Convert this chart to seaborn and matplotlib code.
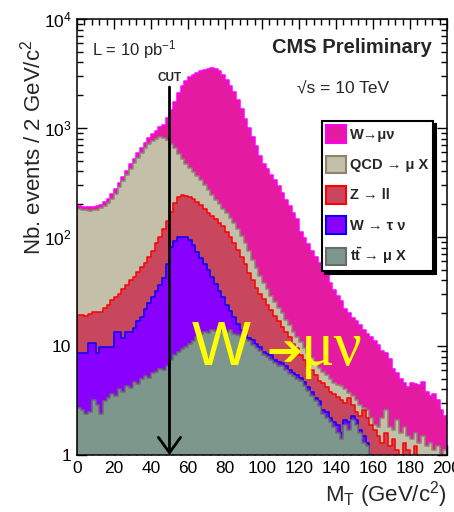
import numpy as np
import pandas as pd
import matplotlib
matplotlib.use("Agg")
import matplotlib.pyplot as plt
from matplotlib.patches import Patch
from matplotlib.ticker import MultipleLocator, LogLocator, FuncFormatter, NullFormatter
import seaborn as sns

# Transverse-mass binning: 2 GeV/c^2 bins from 0 to 200
mt_edges = list(range(0, 202, 2))

# Expected events per bin for L = 10 pb^-1, one list per process
ttbar = [
    2.7, 2.6, 2.4, 2.5, 3.2, 2.9, 2.4, 3.1, 3.3, 3.6,
    3.5, 4.0, 3.8, 4.3, 4.1, 4.7, 4.5, 5.0, 5.3, 5.1,
    5.6, 5.8, 6.2, 6.0, 6.6, 7.4, 8.2, 8.8, 9.4, 9.8,
    10.5, 11.2, 12.0, 12.8, 13.5, 13.2, 14.0, 13.6, 14.2, 13.8,
    13.5, 13.9, 13.0, 12.6, 12.0, 11.6, 11.0, 10.2, 9.6, 9.0,
    8.2, 7.9, 7.4, 7.0, 6.5, 6.6, 6.0, 5.5, 5.3, 5.0,
    4.8, 4.3, 3.9, 3.5, 3.1, 2.8, 2.4, 2.2, 2.0, 1.8,
    1.6, 1.4, 1.9, 1.7, 2.1, 1.9, 1.6, 1.3, 1.2, 0.9,
    0.8, 0.6, 0.7, 0.5, 0.6, 0.4, 0.5, 0.3, 0.4, 0.3,
    0.3, 0.2, 0.3, 0.2, 0.2, 0.2, 0.1, 0.2, 0.1, 0.1,
]
w_taunu = [
    5.9, 6.0, 6.2, 8.1, 7.4, 5.7, 7.4, 6.7, 6.5, 6.2,
    9.9, 9.4, 8.0, 9.1, 9.3, 9.8, 12.5, 13.5, 16.7, 19.9,
    22.4, 26.2, 29.8, 36.0, 50.4, 73.6, 83.8, 91.2, 91.6, 89.2,
    83.5, 72.8, 61.0, 51.2, 42.5, 36.8, 29.0, 23.4, 17.8, 14.2,
    10.5, 7.1, 5.5, 3.4, 2.0, 0.9, 0.8, 1.1, 0.9, 0.8,
    0.7, 0.6, 0.8, 0.5, 0.6, 0.4, 0.5, 0.5, 0.3, 0.4,
    0.3, 0.4, 0.3, 0.3, 0.2, 0.3, 0.2, 0.3, 0.2, 0.2,
    0.3, 0.2, 0.2, 0.3, 0.2, 0.2, 0.1, 0.2, 0.1, 0.1,
    0.1, 0.1, 0.05, 0.1, 0.05, 0.05, 0.1, 0.05, 0.05, 0.05,
    0.05, 0.02, 0.05, 0.02, 0.02, 0.02, 0.02, 0.01, 0.02, 0.01,
]
z_ll = [
    10.6, 10.6, 10.4, 8.9, 9.9, 11.9, 10.7, 12.7, 14.2, 16.6,
    14.6, 16.6, 21.2, 22.6, 26.6, 28.5, 31.0, 34.5, 36.0, 41.0,
    47, 56, 64, 76, 83, 89, 113, 135, 141, 141,
    141, 138, 135, 131, 124, 116, 113, 108, 103, 97,
    88, 79, 69.5, 60, 52, 43.5, 35.2, 28.7, 23.5, 20.2,
    18.1, 15.5, 13.3, 11.5, 9.9, 8.0, 7.0, 6.0, 4.9, 4.1,
    3.1, 2.7, 2.4, 2.2, 2.1, 1.7, 2.0, 1.7, 1.6, 1.6,
    1.5, 1.6, 0.9, 1.3, 0.6, 0.4, 0.6, 1.1, 0.9, 0.9,
    0.8, 0.8, 0.55, 1.0, 0.55, 0.95, 0.5, 0.65, 0.85, 0.75,
    0.55, 0.98, 0.45, 0.68, 0.48, 0.58, 0.48, 0.49, 0.38, 0.49,
]
qcd = [
    160.8, 158.8, 157, 155.5, 155.5, 157.5, 162.5, 169.5, 181, 198.6,
    222, 255, 292, 334, 380, 432, 482, 537, 592, 644,
    685, 702, 725, 697, 640, 550, 445, 345, 278, 230,
    195, 173, 152, 135, 120, 104, 89, 75, 65, 55,
    53, 50, 47, 42, 37, 32, 27, 22, 18, 14,
    11, 9, 7.5, 6.5, 5.5, 5, 4, 3.5, 3, 2.5,
    2.6, 2.2, 2.0, 1.8, 1.6, 1.5, 1.2, 1.2, 1.2, 1.0,
    1.0, 1.1, 1.0, 0.4, 0.6, 0.7, 0.6, 0.1, 0.4, 0.3,
    0.2, 0.3, 0.9, 1.0, 0.6, 0.3, 1.0, 0.6, 0.5, 0.4,
    0.5, 0.4, 0.5, 0.6, 0.5, 0.5, 0.5, 0.5, 0.5, 0.5,
]
w_munu = [
    11, 11, 12, 12, 13, 14, 15, 17, 19, 22,
    25, 28, 32, 37, 43, 50, 58, 68, 80, 95,
    120, 150, 190, 260, 450, 750, 1100, 1500, 1900, 2250,
    2520, 2685, 2840, 2970, 3080, 3180, 3275, 3280, 3150, 2870,
    2600, 2300, 2015, 1680, 1400, 1110, 925, 770, 630, 515,
    432, 387, 341, 305, 273, 235, 203, 175, 152, 133,
    101, 88, 77, 67, 59, 51, 44, 39, 33, 28,
    24.6, 21.7, 18.0, 16.3, 14.5, 13.8, 12.6, 11.3, 10.4, 9.8,
    9.3, 8.4, 6.8, 6.0, 5.8, 4.5, 3.5, 3.4, 2.8, 2.7,
    3.2, 2.9, 3.1, 3.2, 2.6, 2.2, 2.5, 2.0, 1.6, 1.2,
]

# Stack order, bottom to top
process_names = ["ttbar", "W_taunu", "Z_ll", "QCD", "W_munu"]
process_counts = [ttbar, w_taunu, z_ll, qcd, w_munu]
legend_labels = {
    "W_munu": "W\u2192\u03bc\u03bd",
    "QCD": "QCD \u2192 \u03bc X",
    "Z_ll": "Z \u2192 ll",
    "W_taunu": "W \u2192 \u03c4 \u03bd",
    "ttbar": "t$\\mathbf{\\bar{t}}$ \u2192 \u03bc X",
}
fill_colors = {
    "W_munu": "#E41AA0",
    "QCD": "#C4BFA9",
    "Z_ll": "#C8465E",
    "W_taunu": "#8A00FF",
    "ttbar": "#7E978C",
}
edge_colors = {
    "W_munu": "#FF00FF",
    "QCD": "#8C8470",
    "Z_ll": "#FF0000",
    "W_taunu": "#0000FF",
    "ttbar": "#6A6A6A",
}

centers = np.asarray(mt_edges[:-1], float) + 1.0
df = pd.concat(
    [pd.DataFrame({"mt": centers, "events": np.asarray(c, float), "process": n})
     for n, c in zip(process_names, process_counts)],
    ignore_index=True,
)
# Running sum over the stack gives the top edge of each layer
df["stacked"] = df.groupby("mt")["events"].cumsum()

sns.set_style("ticks")
plt.rcParams["font.family"] = ["Liberation Sans", "DejaVu Sans"]
plt.rcParams["mathtext.fontset"] = "custom"
plt.rcParams["mathtext.rm"] = "Liberation Sans"
plt.rcParams["mathtext.it"] = "Liberation Sans:italic"
plt.rcParams["mathtext.bf"] = "Liberation Sans:bold"

W, H = 454, 512
fig = plt.figure(figsize=(W / 100, H / 100), dpi=100)
ax = fig.add_axes([77 / W, 57 / H, 370 / W, 436 / H])

# Draw the stack from the top layer down so each lower layer covers the one above
for name in reversed(process_names):
    sub = df[df["process"] == name]
    sns.histplot(
        data=sub, x="mt", weights="stacked", bins=mt_edges,
        element="step", fill=True, alpha=1,
        color=fill_colors[name], edgecolor=edge_colors[name],
        linewidth=1.1, ax=ax,
    )

ax.set_yscale("log")
ax.set_xlim(0, 200)
ax.set_ylim(1, 1e4)

# Axes styling: ticks inside on all four sides
for s in ax.spines.values():
    s.set_linewidth(1.1)
    s.set_color("black")
    s.set_zorder(20)
ax.xaxis.set_major_locator(MultipleLocator(20))
ax.xaxis.set_minor_locator(MultipleLocator(4))
ax.yaxis.set_major_locator(LogLocator(base=10, numticks=10))
ax.yaxis.set_minor_locator(LogLocator(base=10, subs=np.arange(2, 10), numticks=20))
ax.yaxis.set_minor_formatter(NullFormatter())
ylabels = {1: "1", 10: "10", 100: "$10^2$", 1000: "$10^3$", 10000: "$10^4$"}
ax.yaxis.set_major_formatter(FuncFormatter(lambda v, p: ylabels.get(int(round(v)), "")))
ax.tick_params(which="both", direction="in", top=True, right=True, width=1.0,
               labelsize=12.5, colors="black")
ax.tick_params(which="major", length=7.5, pad=4)
ax.tick_params(which="minor", length=4)
ax.grid(False)

ax.set_ylabel("Nb. events / 2 GeV/c$^2$", fontsize=16)
ax.yaxis.set_label_coords(-0.084, 0.706)
ax.set_xlabel(r"M$_\mathrm{T}$ (GeV/c$^2$)", fontsize=16)
ax.xaxis.set_label_coords(1.0, -0.055)
ax.xaxis.label.set_ha("right")

# Header texts
ax.text(0.0405, 0.929, "L = 10 pb$^{-1}$", transform=ax.transAxes,
        fontsize=12, ha="left", va="center")
ax.text(0.9595, 0.9335, "CMS Preliminary", transform=ax.transAxes,
        fontsize=14.5, fontweight="bold", ha="right", va="center")
ax.text(0.5946, 0.8417, "\u221as = 10 TeV", transform=ax.transAxes,
        fontsize=12.5, ha="left", va="center",
        family=["Liberation Sans", "DejaVu Sans"])

# Selection cut at M_T = 50 GeV/c^2
cut_tr = ax.get_xaxis_transform()
ax.annotate("", xy=(50, 0.0), xycoords=cut_tr, xytext=(50, 0.844), textcoords=cut_tr,
            arrowprops=dict(arrowstyle="->,head_length=0.55,head_width=0.4",
                            color="black", lw=2.0, shrinkA=0, shrinkB=0,
                            mutation_scale=20),
            zorder=12)
ax.text(50, 0.851, "CUT", transform=cut_tr, fontsize=8.5, fontweight="bold",
        ha="center", va="bottom")

# Legend with a solid drop shadow
handles = [Patch(facecolor=fill_colors[n], edgecolor=edge_colors[n], linewidth=1.5,
                 label=legend_labels[n]) for n in reversed(process_names)]
leg = ax.legend(handles=handles, loc="upper left", bbox_to_anchor=(0.662, 0.766),
                borderaxespad=0, prop={"weight": "bold", "size": 10.5},
                handlelength=1.35, handleheight=1.5, handletextpad=0.3,
                labelspacing=0.85, borderpad=0.3, fancybox=False,
                frameon=True, edgecolor="black",
                shadow={"facecolor": "black", "edgecolor": "black", "alpha": 1})
leg.get_frame().set_linewidth(1.5)
leg.set_zorder(15)

# Signal annotation
yellow = "#FFFF00"
ax.text(0.3108, 0.2064, "W", transform=ax.transAxes, fontsize=45, color=yellow,
        family=["Liberation Sans"], ha="left", va="baseline", zorder=14)
ax.text(0.5622, 0.2339, "\u2794", transform=ax.transAxes, fontsize=31, color=yellow,
        family=["DejaVu Sans"], ha="center", va="center", zorder=14)
ax.text(0.6054, 0.2064, "\u03bc\u03bd", transform=ax.transAxes, fontsize=45,
        color=yellow, family=["Liberation Serif", "DejaVu Serif"],
        ha="left", va="baseline", zorder=14)

fig.savefig("out.png", dpi=100)
